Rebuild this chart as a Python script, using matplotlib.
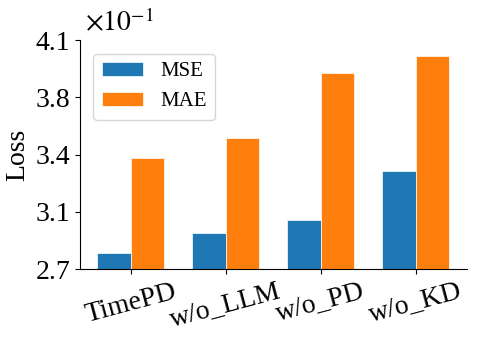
import matplotlib.pyplot as plt
import numpy as np

# Data (loss values)
categories = ["TimePD", "w/o_LLM", "w/o_PD", "w/o_KD"]
mse = [0.280, 0.292, 0.300, 0.330]
mae = [0.338, 0.350, 0.390, 0.400]
ytick_labels = ["2.7", "3.1", "3.4", "3.8", "4.1"]

plt.rcParams['font.family'] = ['Liberation Serif', 'DejaVu Serif']
plt.rcParams['mathtext.fontset'] = 'stix'

fig = plt.figure(figsize=(4.78, 3.42), dpi=100)
ax = fig.add_axes([0.167, 0.2126, 0.809, 0.6704])

x = np.arange(len(categories))
w = 0.35
ax.bar(x - w / 2, mse, w, label="MSE", color="#1f77b4", edgecolor="white", linewidth=0.5)
ax.bar(x + w / 2, mae, w, label="MAE", color="#ff7f0e", edgecolor="white", linewidth=0.5)

ax.set_ylim(0.27, 0.41)
ax.set_yticks(np.linspace(0.27, 0.41, 5))
ax.set_yticklabels(ytick_labels, fontsize=20)
ax.set_xticks(x)
ax.set_xticklabels(categories, fontsize=20, rotation=15)
ax.set_ylabel("Loss", fontsize=20)

ax.text(0.013, 1.01, r"$\times10^{-1}$", transform=ax.transAxes, fontsize=20,
        ha="left", va="bottom")

ax.spines['top'].set_visible(False)
ax.spines['right'].set_visible(False)

ax.legend(loc="upper left", fontsize=15, handlelength=2.0, handleheight=0.7,
          borderaxespad=0.65)

fig.savefig("out.png", dpi=100)
